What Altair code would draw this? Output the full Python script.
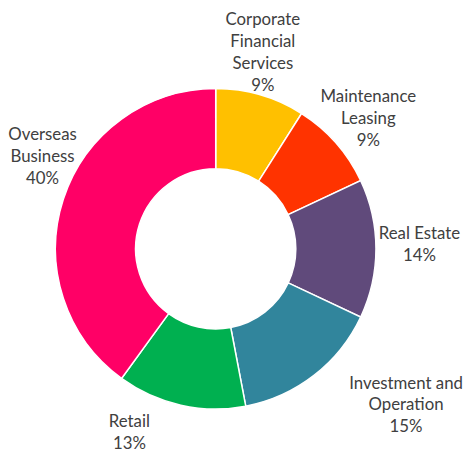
import altair as alt
import pandas as pd

categories = ["Corporate Financial Services", "Maintenance Leasing", "Real Estate",
              "Investment and Operation", "Retail", "Overseas Business"]
label_text = ["Corporate\nFinancial\nServices\n9%", "Maintenance\nLeasing\n9%",
              "Real Estate\n14%", "Investment and\nOperation\n15%", "Retail\n13%",
              "Overseas\nBusiness\n40%"]
shares = [9, 9, 14, 15, 13, 40]
colors = ["#FFC000", "#FF3300", "#604A7B", "#31859C", "#00B050", "#FF0066"]

df = pd.DataFrame({"category": categories, "label": label_text, "share": shares,
                   "order": list(range(len(categories)))})

TAU = 6.283185307
cx, cy = 207, 241
LH = 22
theta = alt.Theta("share:Q", stack=True, scale=alt.Scale(range=[0, TAU]))
order = alt.Order("order:Q")

base = alt.Chart(df)
arcs = base.mark_arc(outerRadius=162, innerRadius=81, stroke="white", strokeWidth=1.5).encode(
    theta=theta, order=order,
    color=alt.Color("category:N", scale=alt.Scale(domain=categories, range=colors), legend=None),
    x=alt.value(cx), y=alt.value(cy),
)

offsets = [(-9, -3), (2, 3), (3, -4), (68, -2), (-43, -12), (18, -30)]
layers = [arcs]
for cat, lab, (dx, dy) in zip(categories, label_text, offsets):
    n = lab.count("\n") + 1
    layers.append(
        base.transform_window(
            cum="sum(share)", sort=[alt.SortField("order")], frame=[None, 0]
        ).transform_joinaggregate(total="sum(share)").transform_calculate(
            mid="(datum.cum - datum.share / 2) / datum.total"
        ).transform_filter(alt.datum.category == cat).mark_text(
            radius=203, dx=dx, dy=dy - (n - 1) * LH / 2, font="Lato", fontSize=17,
            color="#404040", lineBreak="\n", lineHeight=LH, align="center",
            baseline="middle").encode(
            theta=alt.Theta("mid:Q", scale=alt.Scale(domain=[0, 1], range=[0, TAU])),
            text="label:N",
            x=alt.value(cx), y=alt.value(cy),
        )
    )

chart = alt.layer(*layers).resolve_scale(theta="independent").properties(
    width=450, height=430, padding=0).configure_view(stroke=None)
chart.save("out.html", embed_options={"renderer": "svg", "actions": False})
